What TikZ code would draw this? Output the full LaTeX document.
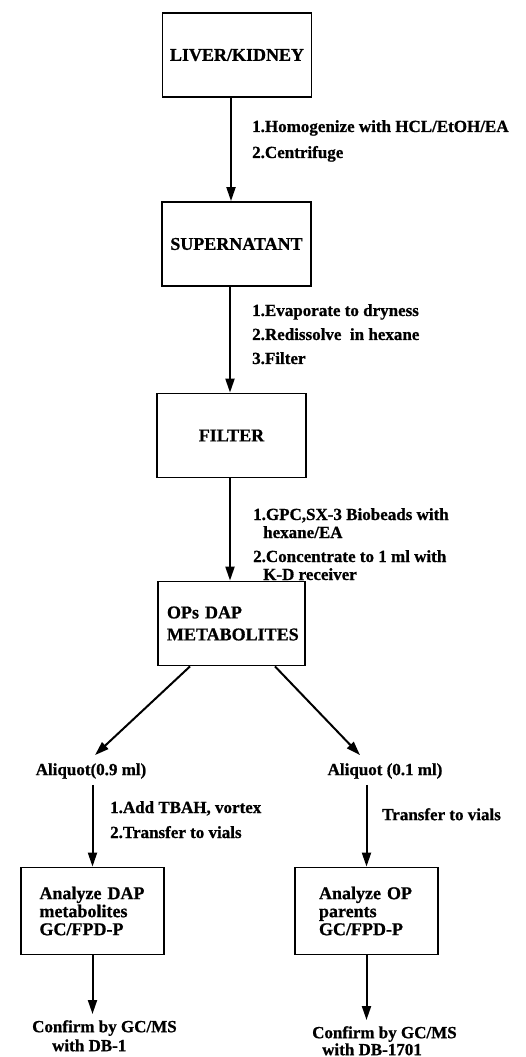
\documentclass[tikz,border=0pt]{standalone}
\usepackage{fontspec}
\setmainfont{Liberation Serif}[BoldFeatures={FakeBold=0.8}]
\usetikzlibrary{arrows.meta}
\begin{document}
\begin{tikzpicture}[x=1pt,y=-1pt,
  box/.style={draw,line width=1.8pt,minimum width=149pt,minimum height=84pt,inner sep=0pt,
    font=\fontsize{18}{20}\selectfont\bfseries},
  lbl/.style={anchor=north west,align=left,inner sep=0pt},
  arr/.style={line width=2pt,-{Triangle[length=14pt,width=9pt]}}]
\useasboundingbox (0,0) rectangle (525,1057);

\node[box] (b1) at (237,55) {LIVER/KIDNEY};
\node[box] (b2) at (236.5,244) {SUPERNATANT};
\node[box] (b3) at (231.5,435.5) {FILTER};
\node[box,minimum width=147pt,text width=129pt,align=left,font=\fontsize{18}{22}\selectfont\bfseries] (b4) at (231.5,623.5) {OPs DAP\\METABOLITES};
\node[box,minimum width=143pt,minimum height=87pt,text width=106pt,align=left,font=\fontsize{18}{18}\selectfont\bfseries] (b5) at (92.5,911) {Analyze DAP\\metabolites\\GC/FPD-P};
\node[box,minimum width=143pt,minimum height=87pt,text width=95pt,align=left,font=\fontsize{18}{18}\selectfont\bfseries] (b6) at (366.5,911) {Analyze OP\\parents\\GC/FPD-P};

\node[inner sep=0pt,font=\fontsize{17}{20}\selectfont\bfseries] (a1) at (91,771) {Aliquot(0.9 ml)};
\node[inner sep=0pt,font=\fontsize{17}{20}\selectfont\bfseries] (a2) at (385,771) {Aliquot (0.1 ml)};

\node[lbl,font=\fontsize{17}{26}\selectfont\bfseries] (s1) at (252,120) {1.Homogenize with HCL/EtOH/EA\\2.Centrifuge};
\node[lbl,font=\fontsize{17}{24}\selectfont\bfseries] (s2) at (252,304) {1.Evaporate to dryness\\2.Redissolve\ \ in hexane\\3.Filter};
\node[lbl,font=\fontsize{17}{18}\selectfont\bfseries] (s3) at (253,508) {1.GPC,SX-3 Biobeads with\\\hspace*{10pt}hexane/EA\\[6pt]2.Concentrate to 1 ml with\\\hspace*{10pt}K-D receiver};
\node[lbl,font=\fontsize{17}{25}\selectfont\bfseries] (s4) at (110,801) {1.Add TBAH, vortex\\2.Transfer to vials};
\node[lbl,font=\fontsize{17}{24}\selectfont\bfseries] (s5) at (382,808) {Transfer to vials};

\node[lbl,font=\fontsize{17}{19}\selectfont\bfseries] (c1) at (32,1020) {Confirm by GC/MS\\\hspace*{20pt}with DB-1};
\node[lbl,font=\fontsize{17}{17}\selectfont\bfseries] (c2) at (312,1026) {Confirm by GC/MS\\\hspace*{10pt}with DB-1701};

\coordinate (x1) at (231,0);
\coordinate (x2) at (230,0);
\draw[arr] (b1.south -| x1) -- (b2.north -| x1);
\draw[arr] (b2.south -| x2) -- (b3.north -| x2);
\draw[arr] (b3.south -| x2) -- (b4.north -| x2);
\draw[arr] ([xshift=-41.5pt]b4.south) -- ([xshift=4pt,yshift=8pt]a1.north);
\draw[arr] ([xshift=43.5pt]b4.south) -- ([xshift=-25pt,yshift=8pt]a2.north);
\coordinate (a1b) at ([yshift=-6pt]a1.south);
\coordinate (a2b) at ([yshift=-6pt]a2.south);
\draw[arr] (a1b -| b5.north) -- (b5.north);
\draw[arr] (a2b -| b6.north) -- (b6.north);
\coordinate (c1t) at ([yshift=6pt]c1.north);
\coordinate (c2t) at ([yshift=6pt]c2.north);
\draw[arr] (b5.south) -- (c1t -| b5.south);
\draw[arr] (b6.south) -- (c2t -| b6.south);
\end{tikzpicture}
\end{document}
